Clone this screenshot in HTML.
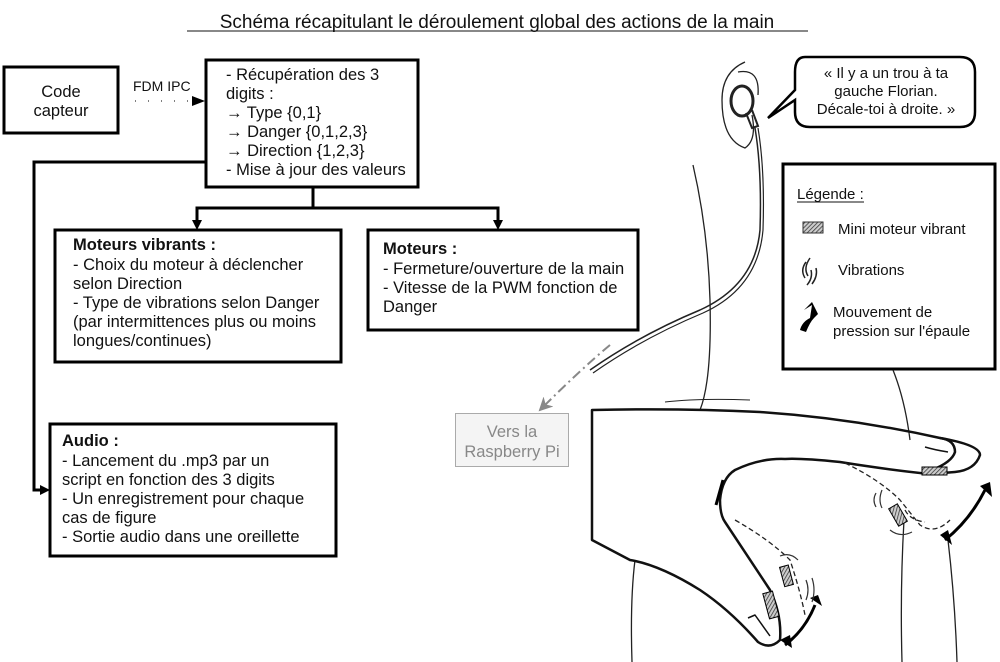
<!DOCTYPE html>
<html><head><meta charset="utf-8"><style>
body{margin:0;background:#fff}
svg{display:block}
text{font-family:"Liberation Sans",sans-serif;font-size:16.5px;fill:#111}
.b{font-weight:bold}
.s{font-size:15px}
</style></head><body>
<svg width="1000" height="662" viewBox="0 0 1000 662" xmlns="http://www.w3.org/2000/svg">
<defs>
<marker id="ag" markerWidth="14" markerHeight="14" refX="12" refY="7" orient="auto" markerUnits="userSpaceOnUse"><path d="M0,0 L14,7 L0,14 L4,7 z" fill="#888"/></marker>
<pattern id="hatch" width="3" height="3" patternUnits="userSpaceOnUse" patternTransform="rotate(45)"><rect width="3" height="3" fill="#ccc"/><line x1="0" y1="0" x2="0" y2="3" stroke="#333" stroke-width="1.5"/></pattern>
</defs>
<text x="497" y="28" text-anchor="middle" style="font-size:19px">Schéma récapitulant le déroulement global des actions de la main</text>
<line x1="187" y1="31" x2="808" y2="31" stroke="#111" stroke-width="1"/>

<g fill="none" stroke="#000" stroke-width="3">
<rect x="4" y="67" width="114" height="66"/>
<rect x="206" y="60" width="212" height="127"/>
<rect x="55" y="230" width="286" height="132"/>
<rect x="368" y="230" width="270" height="100"/>
<rect x="50" y="424" width="286" height="132"/>
<rect x="783" y="164" width="212" height="205"/>
</g>
<text x="61" y="97" text-anchor="middle">Code</text>
<text x="61" y="116" text-anchor="middle">capteur</text>
<text x="133" y="91" style="font-size:14px">FDM IPC</text>
<line x1="135" y1="101" x2="195" y2="101" stroke="#555" stroke-width="1.5" stroke-dasharray="1,12"/>
<path d="M192,96 L205,101 L192,106 z" fill="#000"/>

<g>
<text x="226" y="80">- Récupération des 3</text>
<text x="226" y="99">digits :</text>
<text x="226" y="118">→ Type {0,1}</text>
<text x="226" y="137">→ Danger {0,1,2,3}</text>
<text x="226" y="156">→ Direction {1,2,3}</text>
<text x="226" y="175">- Mise à jour des valeurs</text>
</g>
<g fill="none" stroke="#000" stroke-width="3">
<polyline points="205,162 34,162 34,490 40,490"/>
<polyline points="313,187 313,208 197,208 197,222"/>
<polyline points="313,208 498,208 498,222"/>
</g>
<path d="M192,220 L197,230 L202,220 z"/>
<path d="M493,220 L498,230 L503,220 z"/>
<path d="M40,485 L50,490 L40,495 z"/>

<text x="73" y="250" class="b">Moteurs vibrants :</text>
<text x="73" y="270">- Choix du moteur à déclencher</text>
<text x="73" y="289">selon Direction</text>
<text x="73" y="308">- Type de vibrations selon Danger</text>
<text x="73" y="327">(par intermittences plus ou moins</text>
<text x="73" y="346">longues/continues)</text>

<text x="383" y="254" class="b">Moteurs :</text>
<text x="383" y="274">- Fermeture/ouverture de la main</text>
<text x="383" y="293">- Vitesse de la PWM fonction de</text>
<text x="383" y="312">Danger</text>

<text x="62" y="446" class="b">Audio :</text>
<text x="62" y="466">- Lancement du .mp3 par un</text>
<text x="62" y="485">script en fonction des 3 digits</text>
<text x="62" y="504">- Un enregistrement pour chaque</text>
<text x="62" y="523">cas de figure</text>
<text x="62" y="542">- Sortie audio dans une oreillette</text>

<rect x="455.5" y="413.5" width="113" height="53" fill="#f4f4f4" stroke="#aaa"/>
<text x="512" y="437" text-anchor="middle" style="fill:#888">Vers la</text>
<text x="512" y="457" text-anchor="middle" style="fill:#888">Raspberry Pi</text>
<path d="M610,345 Q580,370 540,410" fill="none" stroke="#888" stroke-width="2" stroke-dasharray="10,4,2,4" marker-end="url(#ag)"/>

<path d="M805,57 L960,57 Q975,57 975,72 L975,112 Q975,127 960,127 L810,127 Q795,127 795,112 L795,100 L768,118 L795,90 L795,72 Q795,57 805,57 z" fill="#fff" stroke="#000" stroke-width="2.5"/>
<text x="886" y="78" text-anchor="middle" class="s">« Il y a un trou à ta</text>
<text x="886" y="96" text-anchor="middle" class="s">gauche Florian.</text>
<text x="886" y="114" text-anchor="middle" class="s">Décale-toi à droite. »</text>

<g fill="none" stroke="#222" stroke-width="1.3">
<path d="M745,62 Q722,72 722,100 Q722,140 745,148 Q757,140 752,115"/>
<path d="M738,72 Q760,68 758,95"/>
<ellipse cx="742" cy="101" rx="11" ry="15" stroke-width="3"/>
<path d="M746,113 L752,128 L758,126 L752,110" stroke-width="2"/>
<path d="M755,128 Q762,170 760,230 Q755,285 700,310 Q640,335 590,370" stroke-width="1.5"/>
<path d="M758,128 Q765,170 763,230 Q758,288 703,313 Q643,338 593,373" stroke-width="1.2"/>
<path d="M693,165 Q708,230 710,300 Q712,380 700,410"/>
<path d="M893,370 Q905,400 910,440"/>
<path d="M635,560 Q630,600 632,662"/>
<path d="M904,520 Q900,590 902,662"/>
<path d="M948,540 Q955,600 957,662"/>
<path d="M750,400 Q700,398 665,402" stroke-width="1"/>
</g>
<g fill="none" stroke="#111" stroke-width="2.5" stroke-linejoin="round">
<path d="M592,410 Q680,408 760,412 Q850,418 940,438 Q980,445 980,455 Q975,470 955,472 L930,474 Q890,470 840,462 Q800,458 785,459 Q760,458 735,470 Q722,478 720,500 Q720,515 725,522 Q750,560 770,590 Q782,615 780,640 Q770,650 758,642 Q730,610 700,590 Q660,565 630,560 L592,540 Z"/>
<path d="M940,438 Q955,440 955,452 Q952,462 932,470"/>
<path d="M925,447 Q935,450 948,452" stroke-width="1.5"/>
<path d="M748,618 L755,615 L770,636" stroke-width="1.5"/>
</g>
<g fill="none" stroke="#222" stroke-width="1.3" stroke-dasharray="5,3">
<path d="M845,463 Q880,480 900,500 L920,525 Q935,535 950,520"/>
<path d="M735,520 Q770,540 790,560 Q800,590 805,615"/>
<path d="M905,510 Q910,520 925,522"/>
</g>
<g stroke="#000" stroke-width="1">
<rect x="922" y="467" width="25" height="8" fill="url(#hatch)"/>
<rect x="893" y="505" width="10" height="20" transform="rotate(-30 898 515)" fill="url(#hatch)"/>
<rect x="782" y="566" width="9" height="20" transform="rotate(-15 786 576)" fill="url(#hatch)"/>
<rect x="766" y="592" width="10" height="26" transform="rotate(-15 771 605)" fill="url(#hatch)"/>
</g>
<g fill="none" stroke="#000" stroke-width="3">
<path d="M945,540 Q970,520 985,490"/>
<path d="M785,645 Q805,630 815,605"/>
<path d="M723,480 L716,505"/>
</g>
<path d="M940,535 L952,545 L948,530 z M980,486 L992,497 L990,482 z M780,640 L792,648 L790,635 z M810,598 L822,606 L818,595 z"/>
<g fill="none" stroke="#333" stroke-width="1.2">
<path d="M882,490 Q878,500 882,508"/><path d="M876,493 Q872,500 876,507"/>
<path d="M890,530 Q900,538 912,532"/>
<path d="M780,556 Q790,552 798,560"/><path d="M806,580 Q810,590 806,600"/><path d="M812,578 Q816,590 812,602"/>
</g>

<text x="797" y="199" class="s">Légende :</text>
<line x1="797" y1="202" x2="864" y2="202" stroke="#111"/>
<rect x="803" y="222" width="20" height="11" fill="url(#hatch)" stroke="#333"/>
<text x="838" y="234" class="s">Mini moteur vibrant</text>
<g fill="none" stroke="#222" stroke-width="1.5"><path d="M806,262 Q800,270 805,278"/><path d="M810,258 Q803,268 808,276"/><path d="M816,268 Q818,276 812,284"/><path d="M811,270 Q813,278 807,285"/></g>
<text x="838" y="275" class="s">Vibrations</text>
<path d="M804,310 L812,305 L810,318 Q802,322 800,330 L806,332 Q810,322 814,318 L818,314 L812,302 Z" fill="#000"/>
<text x="833" y="317" class="s">Mouvement de</text>
<text x="833" y="336" class="s">pression sur l'épaule</text>
</svg>
</body></html>
